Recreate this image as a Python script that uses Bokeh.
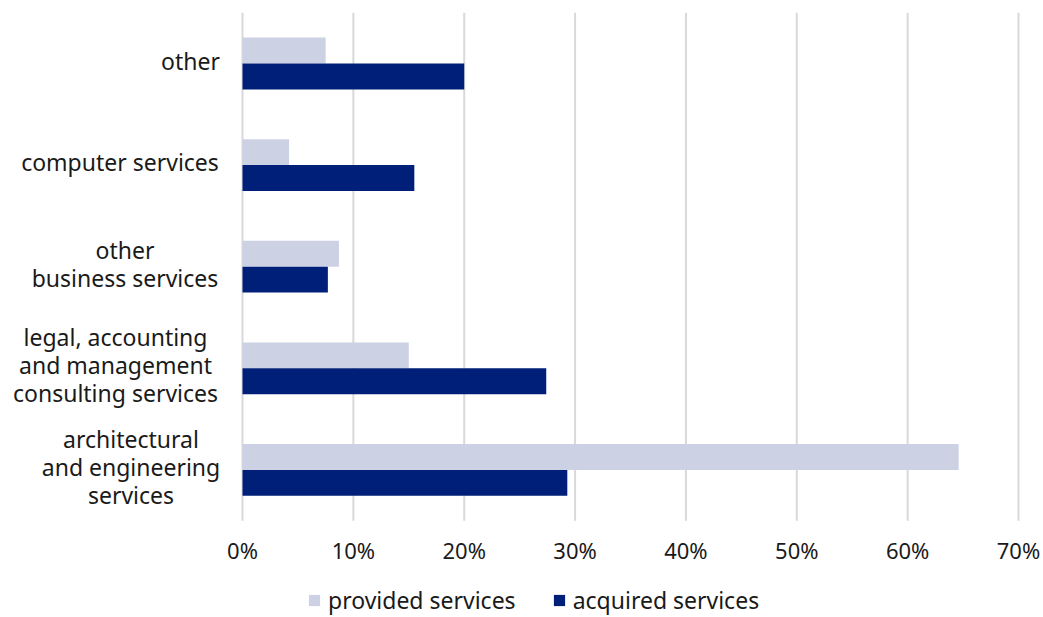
from bokeh.plotting import figure
from bokeh.models import Range1d, ColumnDataSource, Legend, LegendItem
from bokeh.core.properties import value
from bokeh.embed import file_html
from bokeh.resources import INLINE

categories = ["other", "computer services", "other\nbusiness services",
              "legal, accounting\nand management\nconsulting services",
              "architectural\nand engineering\nservices"]
provided = [7.5, 4.2, 8.7, 15.0, 64.6]
acquired = [20.0, 15.5, 7.7, 27.4, 29.3]
x_ticks = [0, 10, 20, 30, 40, 50, 60, 70]
x_tick_labels = ["0%", "10%", "20%", "30%", "40%", "50%", "60%", "70%"]

LIGHT = "#ccd2e4"
DARK = "#001f78"
FONT = "Noto Sans"
TXT = "#1a1a1a"

W, H = 1043, 617
# layout (pixels): plot area left/right, centre of top category, category pitch
LEFT_PX, RIGHT_PX, TOP_CAT_PX, PITCH = 242, 1018, 63, 101.6
n = len(categories)
ppx = (RIGHT_PX - LEFT_PX) / (x_ticks[-1] - x_ticks[0])
x_lo = x_ticks[0] - LEFT_PX / ppx
x_hi = x_lo + W / ppx
y_hi = (n - 1) + TOP_CAT_PX / PITCH
y_lo = y_hi - H / PITCH

ypos = [n - 1 - i for i in range(n)]  # first category at top
bw = 0.255
src = ColumnDataSource(dict(cat=categories, provided=provided, acquired=acquired,
                            yp=[y + bw / 2 for y in ypos], ya=[y - bw / 2 for y in ypos]))

p = figure(width=W, height=H, x_range=Range1d(x_lo, x_hi), y_range=Range1d(y_lo, y_hi),
           output_backend="svg", toolbar_location=None,
           min_border=0, min_border_left=0, min_border_right=0, min_border_top=0, min_border_bottom=0)
p.xaxis.visible = False
p.yaxis.visible = False
p.grid.visible = False
p.outline_line_color = None

# vertical grid lines at ticks
p.segment(x0=x_ticks, x1=x_ticks, y0=[-0.5] * len(x_ticks), y1=[n - 0.5] * len(x_ticks),
          line_color="#d9d9d9", line_width=2)

r1 = p.hbar(y="yp", right="provided", left=0, height=bw, source=src, color=LIGHT, line_color=None)
r2 = p.hbar(y="ya", right="acquired", left=0, height=bw, source=src, color=DARK, line_color=None)

# x tick labels
p.text(x=x_ticks, y=[-0.5 - 29 / PITCH] * len(x_ticks), text=x_tick_labels,
       text_align="center", text_baseline="middle", text_font=value(FONT),
       text_font_size="22px", text_color=TXT)

# category labels: lines centred within a right-aligned block
block_w = [58, 199, 189, 208, 177]  # approximate block widths in px
line_h = 28
lx, ly, lt = [], [], []
for cat, y, w in zip(categories, ypos, block_w):
    lines = cat.split("\n")
    k = len(lines)
    for j, line in enumerate(lines):
        lx.append(-(23 + w / 2) / ppx)
        ly.append(y + (((k - 1) / 2 - j) * line_h + 3) / PITCH)
        lt.append(line)
p.text(x=lx, y=ly, text=lt, text_align="center", text_baseline="middle",
       text_font=value(FONT), text_font_size="23px", text_color=TXT)

legend = Legend(items=[LegendItem(label="provided services", renderers=[r1]),
                       LegendItem(label="acquired services", renderers=[r2])],
                orientation="horizontal", location=(307, 1),
                label_text_font=FONT, label_text_font_size="23px", label_text_color=TXT,
                glyph_width=14, glyph_height=14, label_standoff=7, spacing=36,
                border_line_color=None, background_fill_alpha=0, padding=0, margin=0)
p.add_layout(legend, "center")

open("out.html", "w").write(file_html(p, INLINE))
